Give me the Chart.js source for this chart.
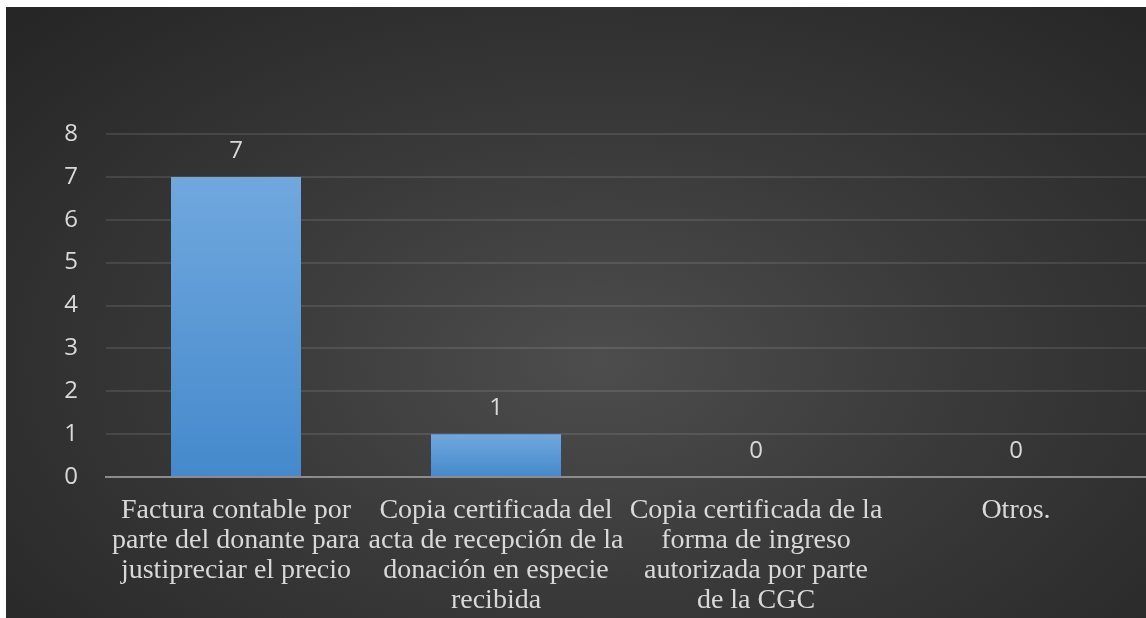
<!DOCTYPE html>
<html lang="es">
<head>
<meta charset="utf-8">
<title>Documentos de respaldo</title>
<script src="https://cdn.jsdelivr.net/npm/chart.js@4.4.1/dist/chart.umd.min.js"></script>
<style>
    html, body {
        margin: 0;
        padding: 0;
        background: #ffffff;
        width: 1146px;
        height: 618px;
        overflow: hidden;
    }

    #chartBox {
        position: absolute;
        left: 6px;
        top: 7px;
        width: 1140px;
        height: 611px;
        background: radial-gradient(ellipse 70% 80% at 52% 58%, #4d4d4d 0%, #3a3a3a 45%, #262626 100%);
    }
</style>
</head>
<body>
<div id="chartBox">
    <canvas id="documentChart"></canvas>
</div>
<script>
const CATEGORY_LABELS = [
    ["Factura contable por", "parte del donante para", "justipreciar el precio"],
    ["Copia certificada del", "acta de recepción de la", "donación en especie", "recibida"],
    ["Copia certificada de la", "forma de ingreso", "autorizada por parte", "de la CGC"],
    ["Otros."]
];

const RESPONSE_COUNTS = [7, 1, 0, 0];

const Y_MIN = 0;
const Y_MAX = 8;
const Y_STEP = 1;

const TEXT_COLOR = "#d9d9d9";

function buildBarGradient(context) {

    const chart = context.chart;
    const yScale = chart.scales.y;

    if (!chart.chartArea || !yScale || context.dataIndex === undefined) {
        return "#5b9bd5";
    }

    const value = RESPONSE_COUNTS[context.dataIndex];
    const top = yScale.getPixelForValue(value);
    const bottom = yScale.getPixelForValue(0);

    if (bottom - top < 1) {
        return "#5b9bd5";
    }

    const gradient = chart.ctx.createLinearGradient(0, top, 0, bottom);
    gradient.addColorStop(0, "#70a8de");
    gradient.addColorStop(1, "#4589cc");

    return gradient;
}

// value labels above each bar
const valueLabelPlugin = {
    id: "valueLabels",
    afterDatasetsDraw(chart) {

        const ctx = chart.ctx;
        const meta = chart.getDatasetMeta(0);

        ctx.save();
        ctx.font = "24px 'Open Sans', sans-serif";
        ctx.fillStyle = TEXT_COLOR;
        ctx.textAlign = "center";
        ctx.textBaseline = "middle";

        meta.data.forEach((bar, index) => {

            ctx.fillText(String(RESPONSE_COUNTS[index]), bar.x, bar.y - 26);
        });

        ctx.restore();
    }
};

const chartConfig = {
    type: "bar",
    data: {
        labels: CATEGORY_LABELS,
        datasets: [
            {
                label: "Respuestas",
                data: RESPONSE_COUNTS,
                backgroundColor: buildBarGradient,
                borderWidth: 0,
                barPercentage: 0.5,
                categoryPercentage: 1
            }
        ]
    },
    options: {
        responsive: true,
        maintainAspectRatio: false,
        animation: false,
        layout: {
            padding: {
                top: 127,
                left: 0,
                right: 0,
                bottom: 6
            }
        },
        plugins: {
            legend: {
                display: false
            },
            tooltip: {
                enabled: false
            }
        },
        scales: {
            x: {
                offset: true,
                grid: {
                    display: false,
                    drawTicks: false
                },
                border: {
                    display: true,
                    color: "#8c8c8c",
                    width: 2
                },
                ticks: {
                    color: TEXT_COLOR,
                    autoSkip: false,
                    maxRotation: 0,
                    minRotation: 0,
                    padding: 19,
                    font: {
                        family: "'Liberation Serif', 'Times New Roman', serif",
                        size: 28,
                        lineHeight: "30px"
                    }
                },
                afterFit(scale) {

                    scale.height = 135;
                    scale.paddingLeft = 0;
                    scale.paddingRight = 0;
                }
            },
            y: {
                min: Y_MIN,
                max: Y_MAX,
                grid: {
                    color: "rgba(255, 255, 255, 0.1)",
                    lineWidth: 2,
                    drawTicks: false
                },
                border: {
                    display: false
                },
                ticks: {
                    stepSize: Y_STEP,
                    color: TEXT_COLOR,
                    padding: 28,
                    font: {
                        family: "'Open Sans', sans-serif",
                        size: 24
                    }
                },
                afterFit(scale) {

                    scale.width = 100;
                }
            }
        }
    },
    plugins: [valueLabelPlugin]
};

new Chart(document.getElementById("documentChart").getContext("2d"), chartConfig);
</script>
</body>
</html>
